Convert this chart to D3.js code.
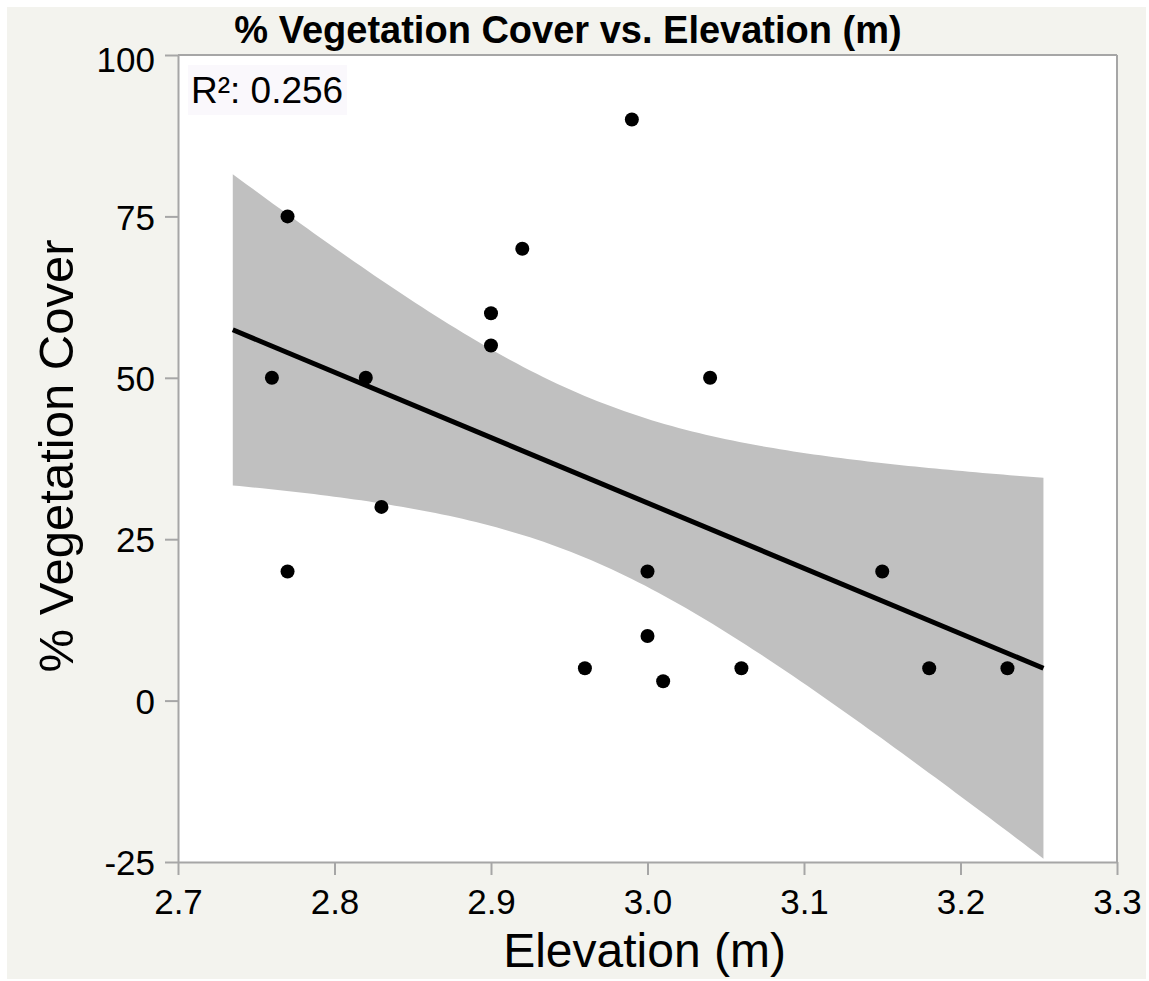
<!DOCTYPE html>
<html>
<head>
<meta charset="utf-8">
<script src="https://cdn.jsdelivr.net/npm/d3@7"></script>
<style>
  html, body { margin: 0; padding: 0; background: #ffffff; }
  svg { display: block; font-family: "Liberation Sans", Arial, Helvetica, sans-serif; }
</style>
</head>
<body>
<svg id="chart" width="1149" height="981"></svg>
<script>
// ---- data ----
const elevation = [2.76, 2.77, 2.77, 2.82, 2.83, 2.90, 2.90, 2.92, 2.96, 2.99, 3.00, 3.00, 3.01, 3.04, 3.06, 3.15, 3.18, 3.23];
const vegCover  = [50,   75,   20,   50,   30,   60,   55,   70,   5,    90,   20,   10,   3,    50,   5,    20,   5,    5];
const xTicks = [2.7, 2.8, 2.9, 3.0, 3.1, 3.2, 3.3];
const yTicks = [-25, 0, 25, 50, 75, 100];
const xDomain = [2.7, 3.3];
const yDomain = [-25, 100];
const fitRange = [2.735, 3.253];
const rSquaredLabel = "R²: 0.256";
const titleText = "% Vegetation Cover vs. Elevation (m)";
const xTitle = "Elevation (m)";
const yTitle = "% Vegetation Cover";

// ---- layout ----
const W = 1149, H = 981;
const L = 178, R = 1117, T = 55, B = 862;
const svg = d3.select("#chart");

svg.append("rect").attr("x", 7).attr("y", 7).attr("width", 1139).attr("height", 972).attr("fill", "#f3f3ee");
svg.append("rect").attr("x", L).attr("y", T).attr("width", R - L).attr("height", B - T).attr("fill", "#ffffff");

const x = d3.scaleLinear().domain(xDomain).range([L, R]);
const y = d3.scaleLinear().domain(yDomain).range([B, T]);

// ---- regression & 95% CI for mean ----
const n = elevation.length;
const mx = d3.mean(elevation), my = d3.mean(vegCover);
let sxx = 0, sxy = 0, syy = 0;
for (let i = 0; i < n; i++) {
  sxx += (elevation[i] - mx) ** 2;
  sxy += (elevation[i] - mx) * (vegCover[i] - my);
  syy += (vegCover[i] - my) ** 2;
}
const slope = sxy / sxx, icpt = my - slope * mx;
const s = Math.sqrt((syy - sxy * sxy / sxx) / (n - 2));
const tcrit = 2.1199; // t(0.975, df=16)
const steps = 120;
const band = d3.range(steps + 1).map(i => {
  const xv = fitRange[0] + (fitRange[1] - fitRange[0]) * i / steps;
  const yh = icpt + slope * xv;
  const hw = tcrit * s * Math.sqrt(1 / n + (xv - mx) ** 2 / sxx);
  return { x: xv, y: yh, lo: yh - hw, hi: yh + hw };
});

svg.append("defs").append("clipPath").attr("id", "clip")
  .append("rect").attr("x", L).attr("y", T).attr("width", R - L).attr("height", B - T);

const g = svg.append("g").attr("clip-path", "url(#clip)");
g.append("path").datum(band)
  .attr("fill", "#c0c0c0")
  .attr("d", d3.area().x(d => x(d.x)).y0(d => y(d.lo)).y1(d => y(d.hi)));

g.append("path").datum([band[0], band[band.length - 1]])
  .attr("fill", "none").attr("stroke", "#000").attr("stroke-width", 5)
  .attr("d", d3.line().x(d => x(d.x)).y(d => y(d.y)));

g.selectAll("circle").data(elevation.map((e, i) => [e, vegCover[i]]))
  .join("circle")
  .attr("cx", d => x(d[0])).attr("cy", d => y(d[1])).attr("r", 7)
  .attr("fill", "#000");

// ---- axes ----
const axisColor = "#a6a6a6";
const xAxis = svg.append("g").attr("transform", `translate(0,${B})`)
  .call(d3.axisBottom(x).tickValues(xTicks).tickFormat(d => d.toFixed(1)).tickSize(13).tickPadding(14).tickSizeOuter(0));
const yAxis = svg.append("g").attr("transform", `translate(${L},0)`)
  .call(d3.axisLeft(y).tickValues(yTicks).tickFormat(d => String(d)).tickSize(13).tickPadding(10).tickSizeOuter(0));
[xAxis, yAxis].forEach(a => {
  a.selectAll("path.domain").attr("stroke", axisColor).attr("stroke-width", 2);
  a.selectAll(".tick line").attr("stroke", axisColor).attr("stroke-width", 2);
  a.selectAll(".tick text").attr("fill", "#000").attr("font-size", 35)
    .attr("font-family", "'Liberation Sans', Arial, sans-serif");
});
yAxis.selectAll(".tick text").attr("dy", "0.36em");
yAxis.selectAll(".tick text").filter(d => d === 100).attr("dy", "0.48em");

// top & right frame
svg.append("line").attr("x1", L).attr("x2", R).attr("y1", T).attr("y2", T).attr("stroke", axisColor).attr("stroke-width", 2);
svg.append("line").attr("x1", R).attr("x2", R).attr("y1", T).attr("y2", B).attr("stroke", axisColor).attr("stroke-width", 2);

// R² label
svg.append("rect").attr("x", 188).attr("y", 65).attr("width", 159).attr("height", 50).attr("fill", "#faf8fc");
svg.append("text").attr("x", 191).attr("y", 103).attr("font-size", 37).attr("fill", "#000").text(rSquaredLabel);

// titles
svg.append("text").attr("x", 568).attr("y", 43).attr("text-anchor", "middle")
  .attr("font-size", 38).attr("font-weight", "bold").attr("fill", "#000").text(titleText);
svg.append("text").attr("x", (L + R) / 2 - 3).attr("y", 967).attr("text-anchor", "middle")
  .attr("font-size", 48).attr("fill", "#000").text(xTitle);
svg.append("text").attr("transform", `translate(73,456) rotate(-90)`).attr("text-anchor", "middle")
  .attr("font-size", 49).attr("fill", "#000").text(yTitle);
</script>
</body>
</html>
